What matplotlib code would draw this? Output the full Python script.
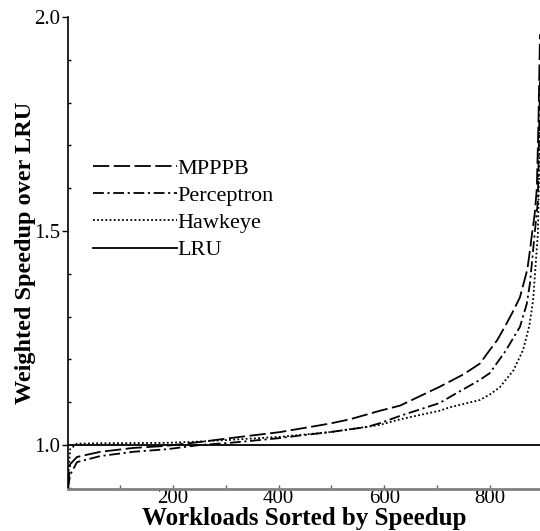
import matplotlib.pyplot as plt
from matplotlib.ticker import MultipleLocator

plt.rcParams['font.family'] = ['Liberation Serif', 'DejaVu Serif']

# sampled points along each sorted speedup curve
mpppb_x = [1, 5, 18, 62, 124, 188, 251, 308, 402, 440, 497, 535, 592, 630, 705,
           750, 781, 800, 814, 830, 843, 857, 871, 876, 880, 885, 889, 892, 895]
mpppb_y = [0.90, 0.955, 0.972, 0.984, 0.993, 0.998, 1.007, 1.016, 1.030, 1.038,
           1.050, 1.060, 1.080, 1.092, 1.136, 1.165, 1.190, 1.222, 1.245, 1.280,
           1.310, 1.345, 1.410, 1.455, 1.495, 1.540, 1.600, 1.750, 1.960]

perc_x = [1, 5, 18, 62, 124, 188, 251, 308, 402, 440, 497, 567, 592, 630, 705,
          724, 781, 800, 830, 857, 870, 876, 885, 891, 895]
perc_y = [0.90, 0.930, 0.960, 0.974, 0.984, 0.990, 1.000, 1.005, 1.016, 1.022,
          1.030, 1.042, 1.051, 1.068, 1.098, 1.112, 1.152, 1.168, 1.220, 1.276,
          1.330, 1.378, 1.495, 1.570, 1.850]

hawk_x = [1, 5, 18, 62, 188, 251, 308, 402, 497, 592, 630, 705, 724, 781, 800,
          819, 845, 863, 875, 882, 891, 895]
hawk_y = [0.92, 0.990, 1.003, 1.004, 1.005, 1.008, 1.012, 1.019, 1.030, 1.047,
          1.060, 1.080, 1.088, 1.105, 1.118, 1.135, 1.175, 1.222, 1.280, 1.339,
          1.495, 1.750]

lru_x = [0, 895]
lru_y = [1.0, 1.0]

fig = plt.figure(figsize=(5.4, 5.31), dpi=100)
ax = fig.add_axes([0.125, 0.079, 0.875, 0.889])

ax.plot(mpppb_x, mpppb_y, color='black', lw=1.3, dashes=(9, 2.5), label='MPPPB')
ax.plot(perc_x, perc_y, color='black', lw=1.3, dashes=(6, 2, 1.2, 2), label='Perceptron')
ax.plot(hawk_x, hawk_y, color='black', lw=1.3, dashes=(1, 1.3), label='Hawkeye')
ax.plot(lru_x, lru_y, color='black', lw=1.3, label='LRU')

ax.set_xlim(0, 895)
ax.set_ylim(0.897, 2.0)

ax.spines['top'].set_visible(False)
ax.spines['right'].set_visible(False)
ax.spines['bottom'].set_color('#808080')
ax.spines['bottom'].set_linewidth(2)
ax.spines['left'].set_linewidth(1.2)

ax.set_xticks([200, 400, 600, 800])
ax.xaxis.set_minor_locator(MultipleLocator(100))
ax.tick_params(axis='x', which='both', direction='in', length=3, width=1,
               color='#606060', labelsize=15, pad=0)
ax.set_yticks([1.0, 1.5, 2.0])
ax.set_yticklabels(['1.0', '1.5', '2.0'])
ax.yaxis.set_minor_locator(MultipleLocator(0.1))
ax.tick_params(axis='y', which='major', direction='out', length=4, width=1,
               labelsize=15, pad=1)
ax.tick_params(axis='y', which='minor', direction='in', length=2, width=1)

ax.set_xlabel('Workloads Sorted by Speedup', fontsize=18, fontweight='bold',
              labelpad=-1)
ax.set_ylabel('Weighted Speedup over LRU', fontsize=17.5, fontweight='bold',
              labelpad=-1)

ax.legend(loc='upper left', bbox_to_anchor=(0.035, 0.72), frameon=False,
          fontsize=16, handlelength=3.8, handletextpad=0.0, labelspacing=0.3,
          borderaxespad=0)

fig.savefig('out.png', dpi=100)
